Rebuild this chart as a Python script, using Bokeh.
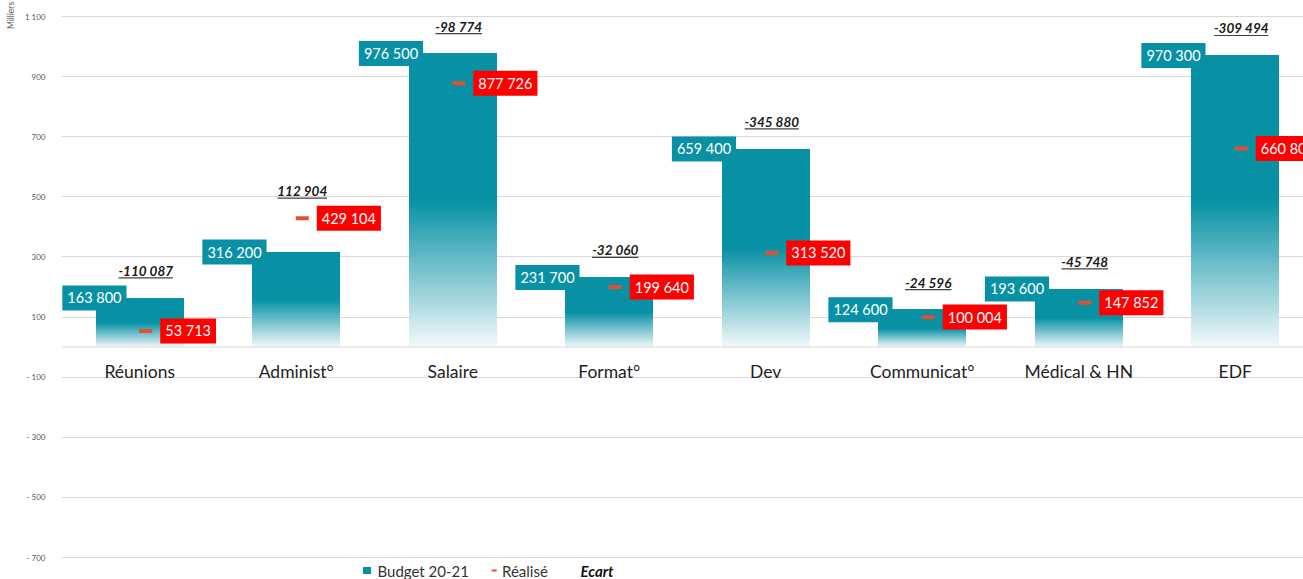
import math
import numpy as np
from bokeh.plotting import figure
from bokeh.models import Range1d, FixedTicker, Label, Span
from bokeh.core.properties import value
from bokeh.embed import file_html
from bokeh.resources import INLINE

# ---------------- data ----------------
categories = ["Réunions", "Administ°", "Salaire", "Format°", "Dev",
              "Communicat°", "Médical & HN", "EDF"]
budget = [163800, 316200, 976500, 231700, 659400, 124600, 193600, 970300]
realise = [53713, 429104, 877726, 199640, 313520, 100004, 147852, 660806]
ecart = [-110087, 112904, -98774, -32060, -345880, -24596, -45748, -309494]
y_ticks = [-700, -500, -300, -100, 100, 300, 500, 700, 900, 1100]
legend_labels = ["Budget 20-21", "Réalisé", "Ecart"]
axis_title = "Milliers"

# ---------------- layout ----------------
W, H = 1303, 579
LEFT = 61
TOP = 15
BAND = 156.5                     # px per category
PXU = 541 / 1800.0               # px per unit (thousands)
Y1 = 1100 + 1 / PXU
Y0 = -700 - 22 / PXU
X1 = (W - LEFT) / BAND

TEAL = "#0891a5"
teal_rgb = np.array([8, 145, 165])
bottom_rgb = np.array([242, 249, 250])
RED = "#ff0000"
DASH = "#e2502f"
FONT = value("Lato")


def fr(v):
    s = f"{abs(v):,}".replace(",", " ")
    return ("-" if v < 0 else "") + s


def tick_fmt(t):
    s = f"{abs(t):,}".replace(",", " ")
    return ("- " if t < 0 else "") + s


def hexc(rgb):
    r, g, b = [int(round(c)) for c in rgb]
    return f"#{r:02x}{g:02x}{b:02x}"


p = figure(width=W, height=H, x_range=Range1d(0, X1), y_range=Range1d(Y0, Y1),
           output_backend="svg", toolbar_location=None,
           x_axis_location=None, y_axis_location="left",
           min_border=0, min_border_left=LEFT, min_border_right=0,
           min_border_top=TOP, min_border_bottom=0)
p.outline_line_color = None
p.background_fill_color = "white"
p.xgrid.visible = False

# y axis
yax = p.yaxis[0]
yax.ticker = FixedTicker(ticks=y_ticks)
yax.major_label_overrides = {t: tick_fmt(t) for t in y_ticks}
yax.axis_line_color = None
yax.major_tick_line_color = None
yax.minor_tick_line_color = None
yax.major_tick_out = 0
yax.major_tick_in = 0
yax.major_label_standoff = 16
yax.major_label_text_font = "Lato"
yax.major_label_text_font_size = "8px"
yax.major_label_text_color = "#595959"
use_axis_title = hasattr(yax, "axis_label_align")
if use_axis_title:
    yax.axis_label = axis_title
    yax.axis_label_align = "end"
    yax.axis_label_standoff = 6
    yax.axis_label_text_font = "Lato"
    yax.axis_label_text_font_size = "8.5px"
    yax.axis_label_text_font_style = "normal"
    yax.axis_label_text_color = "#595959"
p.ygrid.ticker = FixedTicker(ticks=y_ticks)
p.ygrid.grid_line_color = "#d9d9d9"
p.ygrid.grid_line_width = 1

p.add_layout(Span(location=0, dimension="width", line_color="#d9d9d9", line_width=1))

# ---------------- bars (gradient emulated by overlapping strips) ----------------
N = 90
half_w = 87.4 / BAND / 2
ql, qr, qb, qt, qc = [], [], [], [], []
for i, b in enumerate(budget):
    v = b / 1000.0
    c = i + 0.5
    h = v / 2
    for k in range(N):
        t = (k + 0.5) / N
        ql.append(c - half_w); qr.append(c + half_w)
        qb.append(h * k / N); qt.append(v)
        qc.append(hexc(bottom_rgb + (teal_rgb - bottom_rgb) * t))
    ql.append(c - half_w); qr.append(c + half_w)
    qb.append(h); qt.append(v); qc.append(TEAL)
p.quad(left=ql, right=qr, bottom=qb, top=qt, fill_color=qc, line_color=None)

cx = [i + 0.5 for i in range(len(categories))]

# budget labels (teal boxes, left of bar top)
bx = [max(c - 24.7 / BAND, 70 / BAND) for c in cx]
p.text(x=bx, y=[b / 1000 for b in budget], text=[fr(b) for b in budget],
       text_align="right", text_baseline="middle", x_offset=-5,
       text_font=FONT, text_font_size="14.5px", text_color="white",
       background_fill_color=TEAL, padding=dict(x=5, y=4))

# realised markers
p.rect(x=[c + 6 / BAND for c in cx], y=[r / 1000 for r in realise], width=13, height=4,
       width_units="screen", height_units="screen", fill_color=DASH, line_color=None)

# realised labels (red boxes)
p.text(x=cx, y=[r / 1000 for r in realise], text=[fr(r) for r in realise],
       text_align="left", text_baseline="middle", x_offset=20.5,
       text_font=FONT, text_font_size="14.5px", text_color="white",
       background_fill_color=RED, padding=dict(x=5, y=4))

# ecart labels
ex = [c + 6 / BAND for c in cx]
ey = [max(b, r) / 1000 for b, r in zip(budget, realise)]
etxt = [fr(e) for e in ecart]
p.text(x=ex, y=ey, text=etxt, text_align="center", text_baseline="middle", y_offset=-27,
       text_font=FONT, text_font_size="13.5px", text_font_style="bold italic",
       text_color="#1a1a1a")


def est_w(s):
    return sum(7.8 if ch.isdigit() else 2.7 if ch == " " else 4.7 for ch in s)


ux0 = [x - est_w(s) / 2 / BAND for x, s in zip(ex, etxt)]
ux1 = [x + est_w(s) / 2 / BAND for x, s in zip(ex, etxt)]
uy = [y + (27 - 7) / PXU for y in ey]
p.segment(x0=ux0, y0=uy, x1=ux1, y1=uy, line_color="#404040", line_width=1.2)

# category labels
p.text(x=cx, y=[0] * len(cx), text=categories, text_align="center", text_baseline="middle",
       y_offset=24, text_font=FONT, text_font_size="17.5px", text_color="#1e1e1e")

# ---------------- legend ----------------
def px2x(px):
    return (px - LEFT) / BAND

leg_y = -700 - 13 / PXU
p.rect(x=[px2x(366.5)], y=[leg_y], width=8, height=7, width_units="screen",
       height_units="screen", fill_color=TEAL, line_color=None)
p.rect(x=[px2x(493.7)], y=[leg_y], width=5, height=2, width_units="screen",
       height_units="screen", fill_color=DASH, line_color=None)
p.text(x=[px2x(377), px2x(501.5)], y=[leg_y, leg_y], text=legend_labels[:2],
       text_align="left", text_baseline="middle", text_font=FONT,
       text_font_size="15px", text_color="#333333")
p.text(x=[px2x(580)], y=[leg_y], text=legend_labels[2:],
       text_align="left", text_baseline="middle", text_font=FONT,
       text_font_size="15px", text_font_style="bold italic", text_color="#111111")

# axis title fallback
if not use_axis_title:
    p.add_layout(Label(x=0, y=1100, x_offset=-48, y_offset=-18, angle=math.pi / 2,
                       text=axis_title, text_font="Lato", text_font_size="8.5px",
                       text_align="center", text_baseline="middle", text_color="#595959"))

open("out.html", "w").write(file_html(p, INLINE))
